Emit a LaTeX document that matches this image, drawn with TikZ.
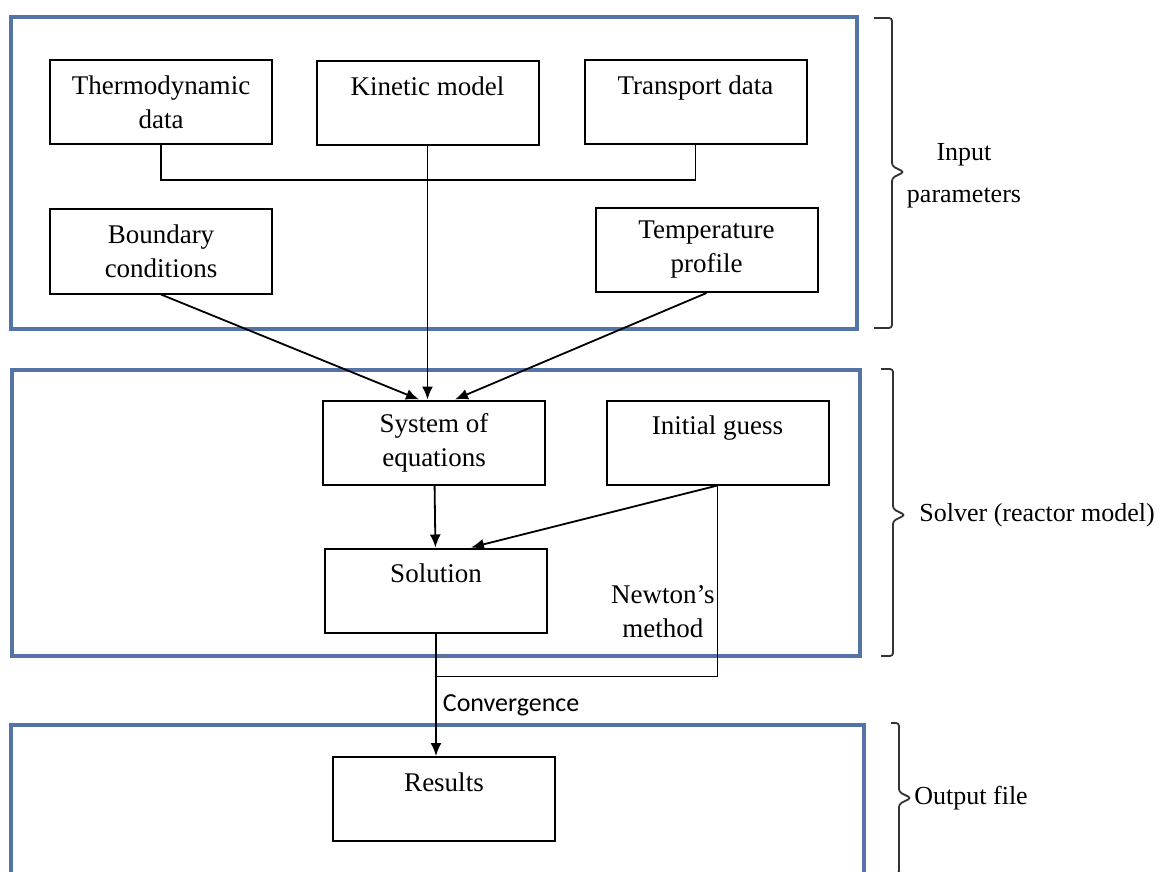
\documentclass[tikz,border=0pt]{standalone}
\usepackage{fontspec}
\setmainfont{Liberation Serif}
\newfontfamily\convfont{Carlito}
\usetikzlibrary{arrows.meta,positioning,calc}

\definecolor{panelblue}{RGB}{84,116,165}

\tikzset{
  block/.style={draw, line width=1pt, minimum width=111pt, minimum height=42pt,
    align=center, font=\fontsize{13.5}{17}\selectfont},
  panel/.style={draw=panelblue, line width=1.6pt},
  link/.style={line width=0.9pt},
  bracket/.style={line width=0.9pt, draw=black!80, rounded corners=1.5pt},
  side label/.style={font=\fontsize{13}{17}\selectfont, inner sep=0pt}
}

\begin{document}
\begin{tikzpicture}[x=0.5pt, y=-0.5pt, >={Latex[length=6.5pt,width=5.5pt]}]

\useasboundingbox (0,0) rectangle (1163,872);
\clip (0,0) rectangle (1163,872);

% panels
\node[panel, minimum width=423pt, minimum height=156pt] (input-panel) at (434,173) {};
\node[panel, minimum width=424pt, minimum height=143pt] (solver-panel) at (436,513) {};
\node[panel, minimum width=426.5pt, minimum height=97.5pt] (output-panel) at (437.5,822.5) {};

% blocks
\foreach \n/\x/\y/\txt in {
    thermo/161/102/{Thermodynamic\\data},
    kinetic/427.5/103/{Kinetic model\\\mbox{}},
    transport/695.5/102/{Transport data\\\mbox{}},
    boundary/161/251.5/{Boundary\\conditions},
    temperature/706.5/250/{Temperature\\profile},
    system/434/442.5/{System of\\equations},
    guess/717.5/442.5/{Initial guess\\\mbox{}},
    solution/436/590.5/{Solution\\\mbox{}},
    results/444/799/{Results\\\mbox{}}}
  \node[block] (\n) at (\x,\y) {\txt};

% input connectors
\draw[link] (thermo.south) -- ++(0,35) -| (transport.south);
\draw[link,->] (kinetic.south) -- (kinetic.south |- system.north);
\draw[link,->] (boundary.south) -- ([xshift=-7.5pt]system.north);
\draw[link,->] (temperature.south) -- ([xshift=10.5pt]system.north);

% solver connectors
\draw[link,->] (system) -- (solution);
\draw[link,->] (guess.south) -- ([xshift=17.5pt]solution.north);
\coordinate (converge) at ([yshift=-21.5pt]solution.south);
\draw[link] (guess.south) |- (converge)
  node[pos=0.33, left, align=center, inner sep=1pt,
       font=\fontsize{13.5}{17}\selectfont] (newton) {Newton's\\method};
\draw[link,->] (solution.south) -- (solution.south |- results.north)
  node[pos=0.59, right, inner sep=3pt,
       font=\convfont\fontsize{13}{16}\selectfont] (convergence) {Convergence};

% brackets
\foreach \xe/\xv/\t/\m/\b in {874/892/18/172/328, 881/893/369/515/656, 891/899/723/798/874}
  \draw[bracket] (\xe,\t) -- (\xv,\t) -- (\xv,\m-6) -- (\xv+12,\m) -- (\xv,\m+6) -- (\xv,\b) -- (\xe,\b);

\node[side label, align=center] (input-label) at (964,176) {Input\\[4pt]parameters};
\node[side label, anchor=west] (solver-label) at (919,515) {Solver (reactor model)};
\node[side label, anchor=west] (output-label) at (914,798) {Output file};

\end{tikzpicture}
\end{document}
